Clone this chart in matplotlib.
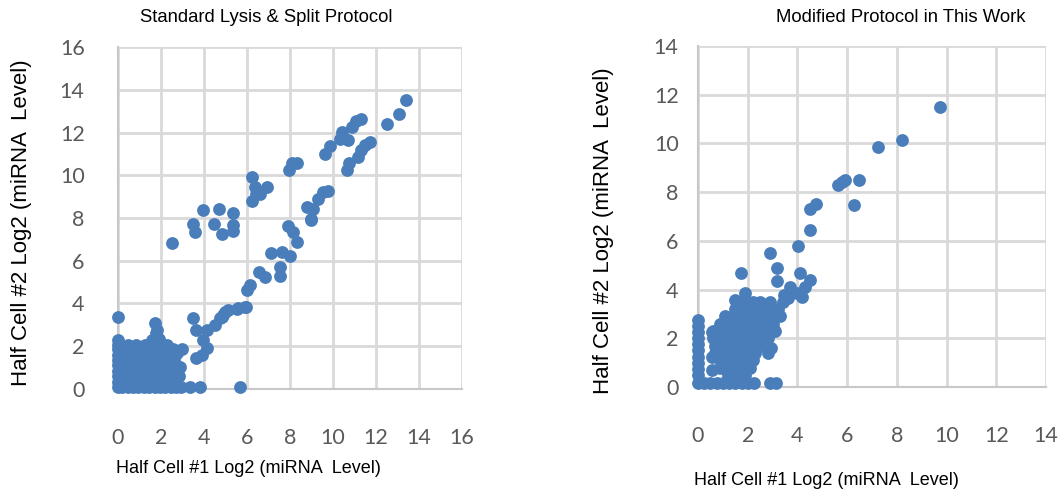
import numpy as np
import matplotlib.pyplot as plt

# ---- Standard lysis & split: scattered high-expression points ----
std_x = [13.38, 13.07, 12.50, 11.30, 11.05, 10.87, 10.43, 10.33, 10.71, 9.86, 9.63,
         11.72, 11.49, 11.30, 11.15, 10.76, 10.63, 8.31, 8.08, 7.97, 6.25, 6.37,
         6.91, 6.60, 6.25, 6.40, 9.78, 9.55, 9.32, 8.77, 9.08, 8.96, 9.00, 7.92, 8.15,
         3.97, 4.70, 5.36, 3.50, 4.48, 3.58, 4.82, 5.36, 5.36, 2.50, 8.31,
         7.10, 7.61, 8.00, 7.53, 7.53, 6.57, 6.84, 6.14, 5.99, 5.95, 5.60,
         5.91, 5.52, 5.13, 4.98, 4.82, 4.90, 4.74, 4.51, 4.12, 3.50, 3.61,
         0.00, 1.72, 1.80, 3.97, 4.12, 3.63, 3.89, 5.67, 3.35, 3.81]
std_y = [13.54, 12.88, 12.41, 12.65, 12.54, 12.26, 12.02, 11.71, 11.67, 11.36, 11.01,
         11.56, 11.40, 11.17, 10.86, 10.55, 10.23, 10.57, 10.55, 10.23, 9.92, 9.45,
         9.45, 9.14, 8.80, 9.10, 9.25, 9.22, 8.91, 8.52, 8.40, 7.93, 7.90, 7.62, 7.35,
         8.36, 8.44, 8.24, 7.74, 7.74, 7.35, 7.24, 7.66, 7.40, 6.81, 6.90,
         6.37, 6.42, 6.21, 5.72, 5.28, 5.48, 5.22, 4.86, 4.63, 3.82, 3.77,
         3.85, 3.72, 3.69, 3.61, 3.38, 3.46, 3.30, 2.99, 2.76, 3.30, 2.76,
         3.38, 3.07, 2.76, 2.29, 1.90, 1.43, 1.60, 0.10, 0.10, 0.10]

# ---- Standard lysis & split: dense low-level cluster ----
std_low_x = [0.0, 0.2, 0.45, 0.7, 0.95, 1.2, 1.45, 1.7, 1.95, 2.2, 2.45, 2.7, 2.95,
             0.0, 0.3, 0.9, 1.5, 2.1, 2.6,
             0.0, 0.25, 0.6, 1.0, 1.3, 1.75, 2.05, 2.5, 2.85,
             0.0, 0.4, 0.8, 1.2, 1.6, 1.9, 2.3, 2.7,
             0.0, 0.2, 0.55, 0.95, 1.35, 1.7, 2.0, 2.4, 2.9,
             0.0, 0.35, 0.75, 1.1, 1.5, 1.85, 2.2, 2.6,
             0.0, 0.15, 0.5, 0.9, 1.3, 1.65, 2.0, 2.35, 2.75,
             0.0, 0.3, 0.7, 1.05, 1.45, 1.8, 2.15, 2.55, 3.0,
             0.0, 0.45, 0.85, 1.25, 1.6, 1.95, 2.3,
             0.0, 1.6, 1.9, 1.75]
std_low_y = [0.1, 0.1, 0.1, 0.1, 0.1, 0.1, 0.1, 0.1, 0.1, 0.1, 0.1, 0.1, 0.1,
             0.35, 0.35, 0.35, 0.35, 0.35, 0.35,
             0.6, 0.6, 0.6, 0.6, 0.6, 0.6, 0.6, 0.6, 0.6,
             0.85, 0.85, 0.85, 0.85, 0.85, 0.85, 0.85, 0.85,
             1.1, 1.1, 1.1, 1.1, 1.1, 1.1, 1.1, 1.1, 1.05,
             1.35, 1.35, 1.35, 1.35, 1.35, 1.35, 1.35, 1.35,
             1.6, 1.6, 1.6, 1.6, 1.6, 1.6, 1.6, 1.6, 1.7,
             1.85, 1.85, 1.85, 1.85, 1.85, 1.85, 1.85, 1.85, 1.85,
             2.05, 2.05, 2.05, 2.05, 2.05, 2.05, 2.05,
             2.3, 2.3, 2.35, 2.6]

# ---- Modified protocol: upper points ----
mod_x = [9.73, 8.21, 7.25, 6.49, 5.90, 5.79, 5.62, 6.29, 4.76, 4.52, 4.49, 4.04,
         2.90, 3.17, 3.17, 4.11, 4.52, 4.31, 3.71, 3.44, 1.73, 1.90, 1.49, 2.94,
         2.90, 3.15, 3.6, 4.0, 4.2]
mod_y = [11.49, 10.15, 9.85, 8.48, 8.48, 8.41, 8.28, 7.46, 7.53, 7.32, 6.43, 5.78,
         5.50, 4.90, 4.36, 4.66, 4.41, 4.11, 4.09, 3.77, 4.66, 3.87, 3.57, 1.59,
         0.15, 0.15, 3.65, 3.85, 3.7]

# ---- Modified protocol: dense low-level cluster ----
mod_low_x = [0.0, 0.0, 0.0, 0.0, 0.0, 0.0, 0.0, 0.0, 0.0, 0.0, 0.0,
             0.25, 0.5, 0.75, 1.0, 1.25, 1.5, 1.75, 2.0, 2.25,
             0.55, 0.55, 0.55,
             1.2, 1.5, 1.9,
             0.9, 1.3, 1.7, 2.1,
             0.9, 1.2, 1.5, 1.8, 2.2,
             0.7, 1.0, 1.3, 1.6, 1.9, 2.3, 2.8,
             0.7, 1.0, 1.3, 1.6, 1.9, 2.2, 2.5,
             0.6, 0.9, 1.2, 1.5, 1.8, 2.1, 2.4, 2.8,
             0.6, 0.9, 1.2, 1.5, 1.8, 2.1, 2.4, 2.7, 3.1,
             0.9, 1.2, 1.5, 1.8, 2.1, 2.4, 2.7, 3.0,
             1.1, 1.4, 1.7, 2.0, 2.3, 2.6, 2.9, 3.3,
             1.5, 1.8, 2.1, 2.4, 2.8, 3.2,
             1.8, 2.2, 2.5, 2.9, 3.4]
mod_low_y = [2.75, 2.5, 2.25, 2.0, 1.75, 1.5, 1.25, 1.0, 0.75, 0.5, 0.15,
             0.15, 0.15, 0.15, 0.15, 0.15, 0.15, 0.15, 0.15, 0.15,
             0.7, 1.24, 2.27,
             0.5, 0.5, 0.5,
             0.8, 0.8, 0.8, 0.8,
             1.1, 1.1, 1.1, 1.1, 1.1,
             1.4, 1.4, 1.4, 1.4, 1.4, 1.4, 1.4,
             1.7, 1.7, 1.7, 1.7, 1.7, 1.7, 1.7,
             2.0, 2.0, 2.0, 2.0, 2.0, 2.0, 2.0, 2.0,
             2.3, 2.3, 2.3, 2.3, 2.3, 2.3, 2.3, 2.3, 2.3,
             2.6, 2.6, 2.6, 2.6, 2.6, 2.6, 2.6, 2.6,
             2.9, 2.9, 2.9, 2.9, 2.9, 2.9, 2.9, 2.9,
             3.2, 3.2, 3.2, 3.2, 3.2, 3.2,
             3.5, 3.5, 3.5, 3.5, 3.5]

std_ticks = [0, 2, 4, 6, 8, 10, 12, 14, 16]
mod_ticks = [0, 2, 4, 6, 8, 10, 12, 14]

BLUE = '#4a7ebb'
GRID = '#d9d9d9'
TICK_COLOR = '#595959'


def style(ax, ticks, ypad):
    ax.set_xlim(ticks[0], ticks[-1])
    ax.set_ylim(ticks[0], ticks[-1])
    ax.set_xticks(ticks)
    ax.set_yticks(ticks)
    ax.grid(True, color=GRID, linewidth=2)
    ax.set_axisbelow(True)
    for side in ['top', 'right']:
        ax.spines[side].set_visible(False)
    for side in ['left', 'bottom']:
        ax.spines[side].set_color('#c8c8c8')
        ax.spines[side].set_linewidth(1.5)
    ax.tick_params(length=0, labelsize=15.5, labelcolor=TICK_COLOR)
    ax.tick_params(axis='x', pad=28)
    ax.tick_params(axis='y', pad=ypad)
    for lab in ax.get_xticklabels() + ax.get_yticklabels():
        lab.set_family('Lato')


fig = plt.figure(figsize=(10.61, 4.98), dpi=100)

ax1 = fig.add_axes([0.1112, 0.2189, 0.3242, 0.6867])
ax1.scatter(std_low_x + std_x, std_low_y + std_y, s=85, color=BLUE,
            linewidths=0, clip_on=False, zorder=3)
style(ax1, std_ticks, 24)

ax2 = fig.add_axes([0.6579, 0.2229, 0.328, 0.6847])
ax2.scatter(mod_low_x + mod_x, mod_low_y + mod_y, s=85, color=BLUE,
            linewidths=0, clip_on=False, zorder=3)
style(ax2, mod_ticks, 14)

font = 'Liberation Sans'
fig.text(266 / 1061, 1 - 18 / 498, 'Standard Lysis & Split Protocol', ha='center',
         va='center', fontsize=13.3, family=font)
fig.text(901 / 1061, 1 - 18 / 498, 'Modified Protocol in This Work', ha='center',
         va='center', fontsize=13.3, family=font)
fig.text(248 / 1061, 1 - 468 / 498, 'Half Cell #1 Log2 (miRNA  Level)', ha='center',
         va='center', fontsize=13, family=font)
fig.text(826 / 1061, 1 - 480 / 498, 'Half Cell #1 Log2 (miRNA  Level)', ha='center',
         va='center', fontsize=13, family=font)
fig.text(22 / 1061, 1 - 223 / 498, 'Half Cell #2 Log2 (miRNA  Level)', ha='center',
         va='center', rotation=90, fontsize=16, family=font)
fig.text(603 / 1061, 1 - 231 / 498, 'Half Cell #2 Log2 (miRNA  Level)', ha='center',
         va='center', rotation=90, fontsize=16, family=font)

fig.savefig('out.png', dpi=100)
